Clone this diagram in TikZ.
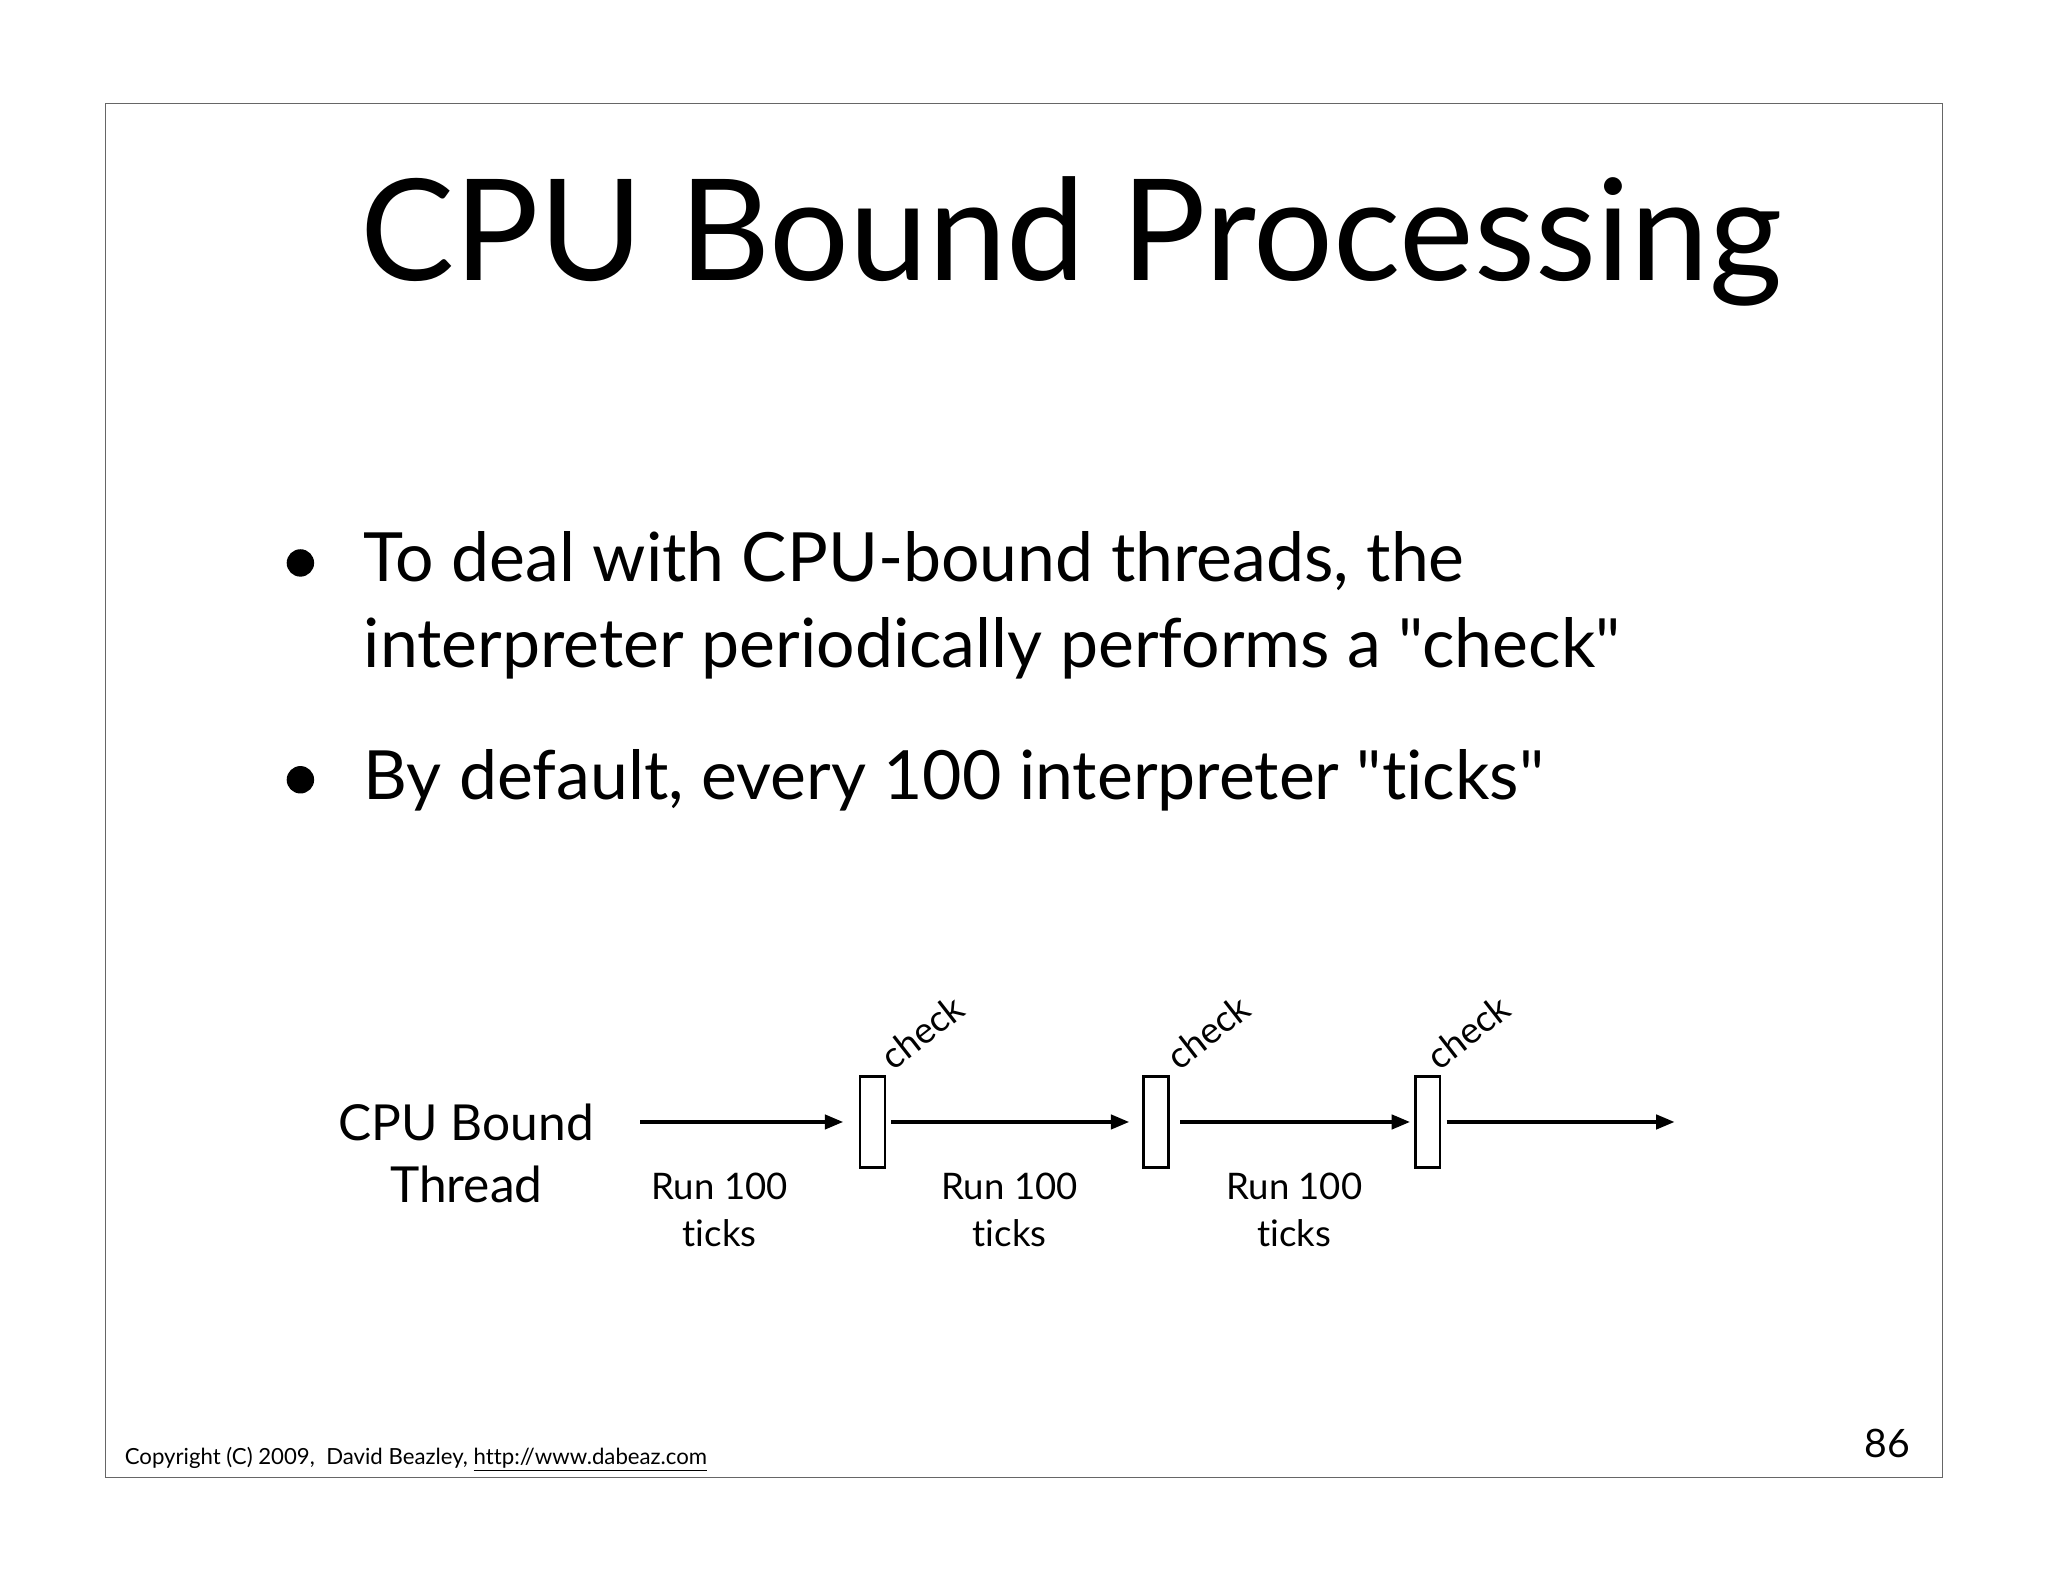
\documentclass[tikz,border=0pt]{standalone}
\usepackage{fontspec}
\defaultfontfeatures[\rmfamily]{}
\setmainfont[Ligatures={NoCommon}]{Lato}
\usetikzlibrary{arrows.meta}
\newcommand{\dq}{\symbol{34}}
\begin{document}
\begin{tikzpicture}[x=1pt,y=-1pt,
  arr/.style={-{Triangle[length=14pt,width=11pt]},line width=2.5pt},
  chk/.style={draw,line width=2pt,minimum width=19pt,minimum height=70pt,inner sep=0pt},
  lbl/.style={font=\fontsize{28}{36}\selectfont,align=center}]
\useasboundingbox (0,0) rectangle (1568,1211);
\draw[line width=0.6pt,black!60] (81,79) rectangle (1487,1131);
\node[font=\fontsize{108}{110}\selectfont] (title) at (820,185) {CPU Bound Processing};
\node[anchor=base west,font=\fontsize{52}{60}\selectfont] (b1) at (275,445) {To deal with CPU-bound threads, the};
\node[anchor=base west,font=\fontsize{52}{60}\selectfont] (b1b) at (275,511) {interpreter periodically performs a \dq check\dq};
\node[anchor=base west,font=\fontsize{52}{60}\selectfont] (b2) at (275,612) {By default, every 100 interpreter \dq ticks\dq};
\fill (230,431) circle (10.5);
\fill (230,597) circle (10.5);
\node[font=\fontsize{38}{48}\selectfont,align=center] (thr) at (357,883) {CPU Bound\\Thread};
\node[chk] (c1) at (668,859) {};
\node[chk] (c2) at (885,859) {};
\node[chk] (c3) at (1093,859) {};
\coordinate (s) at (490,859);
\coordinate (e) at (1282,859);
\draw[arr] (s) -- ([xshift=-12pt]c1.west);
\draw[arr] ([xshift=4pt]c1.east) -- ([xshift=-10pt]c2.west);
\draw[arr] ([xshift=8pt]c2.east) -- ([xshift=-3pt]c3.west);
\draw[arr] ([xshift=4pt]c3.east) -- (e);
\foreach \x/\n in {551/r1,773/r2,991/r3}
  \node[lbl] (\n) at (\x,926) {Run 100\\ticks};
\foreach \x/\n in {706/k1,925/k2,1124/k3}
  \node[lbl,rotate=38,inner sep=0pt] (\n) at (\x,790) {check};
\node[anchor=base west,font=\fontsize{17}{20}\selectfont] (copy) at (92,1121) {Copyright (C) 2009,\ \ David Beazley, \underline{http://www.dabeaz.com}};
\node[anchor=base east,font=\fontsize{30}{34}\selectfont] (num) at (1466,1116) {86};
\end{tikzpicture}
\end{document}
